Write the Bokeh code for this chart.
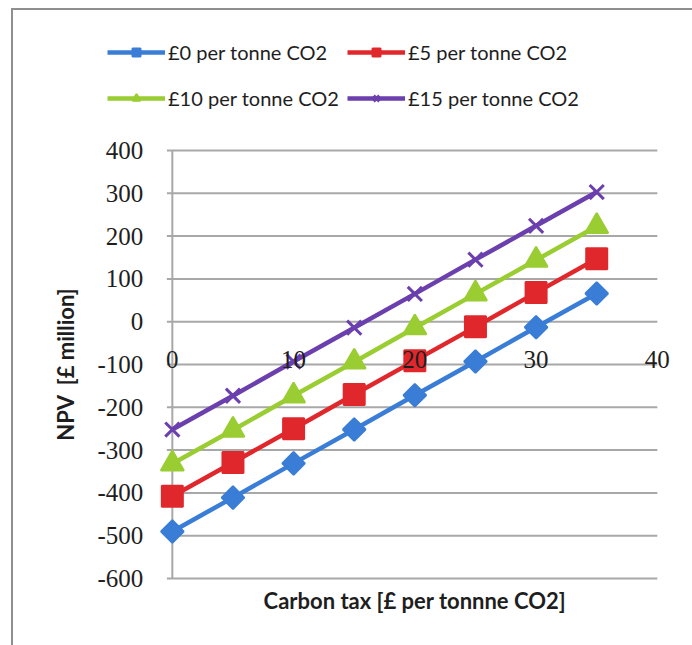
import math
from bokeh.plotting import figure
from bokeh.models import (Range1d, Legend, LegendItem, LabelSet, Label,
                          ColumnDataSource)
from bokeh.embed import file_html
from bokeh.resources import INLINE

# NPV of the scheme against carbon tax, one series per carbon price uplift
carbon_tax = [0, 5, 10, 15, 20, 25, 30, 35]
npv_0 = [-490, -411, -331, -252, -172, -93, -13, 66]
npv_5 = [-408, -329, -250, -170, -91, -12, 68, 147]
npv_10 = [-332, -253, -173, -94, -14, 65, 144, 223]
npv_15 = [-252, -173, -93, -14, 65, 145, 224, 303]

series_labels = ["£0 per tonne CO2", "£5 per tonne CO2",
                 "£10 per tonne CO2", "£15 per tonne CO2"]

x_ticks = [0, 10, 20, 30, 40]
x_tick_labels = ["0", "10", "20", "30", "40"]
y_ticks = [-600, -500, -400, -300, -200, -100, 0, 100, 200, 300, 400]
y_tick_labels = ["-600", "-500", "-400", "-300", "-200", "-100",
                 "0", "100", "200", "300", "400"]
x_axis_crossing = -100

x_title = "Carbon tax [£ per tonnne CO2]"
y_title = "NPV\u00a0 [£ million]"

FONT = "Lato"
TEXT = "#1e1e1e"
GRID = "#a8a8a8"

# the frame fills the whole chart box; axes, titles and legend are drawn inside it
p = figure(
    output_backend="svg", toolbar_location=None,
    frame_width=679, frame_height=635, min_border=0,
    x_range=Range1d(-13.1, 42.9), y_range=Range1d(-756.5, 727.1),
    background_fill_color="white", border_fill_color="white",
)
p.outline_line_color = None
p.styles = {"margin-left": "11px", "margin-top": "8px",
            "border-left": "2px solid #8f8f8f", "border-top": "2px solid #8f8f8f"}
p.xaxis.visible = False
p.yaxis.visible = False
p.xgrid.visible = False
p.ygrid.visible = False

# horizontal gridlines (with short outside ticks) and the value axis line
p.segment(x0=[-0.45] * len(y_ticks), x1=[max(x_ticks)] * len(y_ticks),
          y0=y_ticks, y1=y_ticks, line_color=GRID, line_width=2)
p.segment(x0=[0], x1=[0], y0=[min(y_ticks)], y1=[max(y_ticks)],
          line_color=GRID, line_width=2)

# value axis tick labels
ytick_src = ColumnDataSource(dict(x=[0] * len(y_ticks), y=y_ticks, text=y_tick_labels))
p.add_layout(LabelSet(x="x", y="y", text="text", source=ytick_src,
                      text_align="right", text_baseline="middle", x_offset=-29,
                      text_font=FONT, text_font_size="25px", text_color=TEXT))

# category tick labels sit on the -100 line
xtick_src = ColumnDataSource(dict(x=x_ticks, y=[x_axis_crossing] * len(x_ticks),
                                  text=x_tick_labels))
p.add_layout(LabelSet(x="x", y="y", text="text", source=xtick_src,
                      text_align="center", text_baseline="middle", y_offset=5,
                      text_font=FONT, text_font_size="25px", text_color=TEXT))

# axis titles
p.add_layout(Label(x=(min(x_ticks) + max(x_ticks)) / 2, y=min(y_ticks), y_offset=-22,
                   text=x_title, text_align="center", text_baseline="middle",
                   text_font=FONT, text_font_size="22px", text_font_style="bold",
                   text_color=TEXT))
p.add_layout(Label(x=0, y=(min(y_ticks) + max(y_ticks)) / 2, x_offset=-107,
                   angle=math.pi / 2, text=y_title, text_align="center",
                   text_baseline="middle", text_font=FONT, text_font_size="22px",
                   text_font_style="bold", text_color=TEXT))

colors = ["#3a7dd6", "#e0282c", "#9acd32", "#6b3fae"]
markers = ["square", "square", "triangle", "x"]
angles = [math.pi / 4, 0, 0, 0]
sizes = [16, 21, 23, 20]
widths = [2, 2, 2, 3]
values = [npv_0, npv_5, npv_10, npv_15]

items = []
for vals, col, mk, ang, sz, lw, lab in zip(values, colors, markers, angles, sizes,
                                           widths, series_labels):
    src = ColumnDataSource(dict(x=carbon_tax, y=vals))
    lr = p.line("x", "y", source=src, line_color=col, line_width=4.5)
    sr = p.scatter("x", "y", source=src, marker=mk, angle=ang, size=sz,
                   fill_color=col, line_color=col, line_width=lw)
    items.append(LegendItem(label=lab, renderers=[lr, sr]))

# two legend rows, each with two entries
for row, vy in ((items[:2], 581), (items[2:], 535)):
    leg = Legend(items=row, orientation="horizontal", location=(94, vy),
                 glyph_width=58, glyph_height=20, label_standoff=3,
                 label_width=172, spacing=7, padding=0, margin=0,
                 label_text_font=FONT, label_text_font_size="20px",
                 label_text_color=TEXT, border_line_color=None,
                 background_fill_alpha=0)
    p.add_layout(leg, "center")

open("out.html", "w").write(file_html(p, INLINE))
